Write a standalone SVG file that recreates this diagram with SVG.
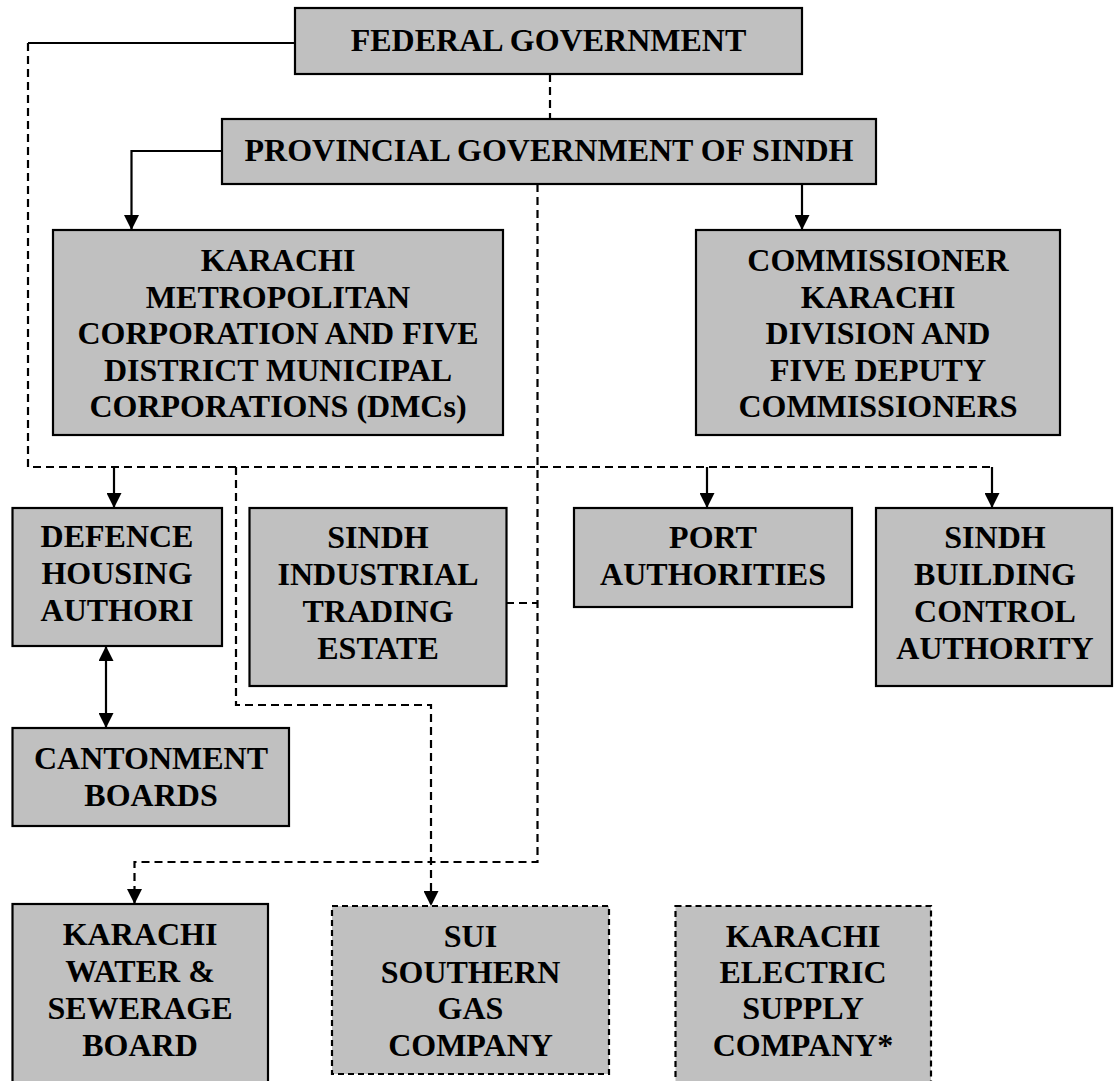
<svg xmlns="http://www.w3.org/2000/svg" width="1114" height="1081" viewBox="0 0 1114 1081">
<style>
.box{fill:#c0c0c0;stroke:#000;stroke-width:2.2}
.dbox{fill:#c0c0c0;stroke:#000;stroke-width:2.2;stroke-dasharray:6 4}
.t{font-family:"Liberation Serif","Times New Roman",serif;font-weight:bold;font-size:32px;fill:#000;text-anchor:middle}
.ln{fill:none;stroke:#000;stroke-width:2.2}
.dl{fill:none;stroke:#000;stroke-width:2.2;stroke-dasharray:8 5}
</style>
<defs>
<marker id="ah" markerUnits="userSpaceOnUse" markerWidth="15" markerHeight="15" refX="15" refY="7.5" orient="auto-start-reverse" viewBox="0 0 15 15">
<path d="M0,0 L15,7.5 L0,15 z" fill="#000"/>
</marker>
</defs>
<rect width="1114" height="1081" fill="#fff"/>
<g id="connectors">
<path class="ln" d="M295,43 H28"/>
<path class="dl" d="M28,43 V467 H992"/>
<path class="ln" d="M114,467 V508" marker-end="url(#ah)"/>
<path class="ln" d="M707,467 V508" marker-end="url(#ah)"/>
<path class="ln" d="M992,467 V508" marker-end="url(#ah)"/>
<path class="dl" d="M236,467 V705 H431 V906" marker-end="url(#ah)"/>
<path class="dl" d="M550,74 V119"/>
<path class="dl" d="M537.5,184 V862 H134.5 V904" marker-end="url(#ah)"/>
<path class="dl" d="M506,603 H537.5"/>
<path class="ln" d="M222,151 H131.5 V230" marker-end="url(#ah)"/>
<path class="ln" d="M802,184 V230" marker-end="url(#ah)"/>
<path class="ln" d="M106,646 V728" marker-start="url(#ah)" marker-end="url(#ah)"/>
</g>
<g id="federal">
<rect class="box" x="295" y="8" width="507" height="66"/>
<text class="t" x="548.5" y="51">FEDERAL GOVERNMENT</text>
</g>
<g id="provincial">
<rect class="box" x="222" y="119" width="654" height="65"/>
<text class="t" x="549" y="161">PROVINCIAL GOVERNMENT OF SINDH</text>
</g>
<g id="kmc">
<rect class="box" x="53" y="230" width="450" height="205"/>
<text class="t" x="278" y="271">KARACHI</text>
<text class="t" x="278" y="307.6">METROPOLITAN</text>
<text class="t" x="278" y="344.2">CORPORATION AND FIVE</text>
<text class="t" x="278" y="380.8">DISTRICT MUNICIPAL</text>
<text class="t" x="278" y="417.4">CORPORATIONS (DMCs)</text>
</g>
<g id="commissioner">
<rect class="box" x="696" y="230" width="364" height="205"/>
<text class="t" x="878" y="271">COMMISSIONER</text>
<text class="t" x="878" y="307.6">KARACHI</text>
<text class="t" x="878" y="344.2">DIVISION AND</text>
<text class="t" x="878" y="380.8">FIVE DEPUTY</text>
<text class="t" x="878" y="417.4">COMMISSIONERS</text>
</g>
<g id="dha">
<rect class="box" x="12.5" y="508" width="209.5" height="138"/>
<text class="t" x="117" y="547">DEFENCE</text>
<text class="t" x="117" y="584">HOUSING</text>
<text class="t" x="117" y="621">AUTHORI</text>
</g>
<g id="site">
<rect class="box" x="249.5" y="508" width="257" height="178"/>
<text class="t" x="378" y="548">SINDH</text>
<text class="t" x="378" y="585">INDUSTRIAL</text>
<text class="t" x="378" y="622">TRADING</text>
<text class="t" x="378" y="659">ESTATE</text>
</g>
<g id="port">
<rect class="box" x="574" y="508" width="278" height="99"/>
<text class="t" x="713" y="548">PORT</text>
<text class="t" x="713" y="585">AUTHORITIES</text>
</g>
<g id="sbca">
<rect class="box" x="876" y="508" width="236" height="178"/>
<text class="t" x="995" y="548">SINDH</text>
<text class="t" x="995" y="585">BUILDING</text>
<text class="t" x="995" y="622">CONTROL</text>
<text class="t" x="995" y="659">AUTHORITY</text>
</g>
<g id="cantonment">
<rect class="box" x="12.5" y="728" width="276.5" height="98"/>
<text class="t" x="151" y="769">CANTONMENT</text>
<text class="t" x="151" y="806">BOARDS</text>
</g>
<g id="kwsb">
<rect class="box" x="12.5" y="904" width="255.5" height="200"/>
<text class="t" x="140" y="945">KARACHI</text>
<text class="t" x="140" y="982">WATER &amp;</text>
<text class="t" x="140" y="1019">SEWERAGE</text>
<text class="t" x="140" y="1056">BOARD</text>
</g>
<g id="ssgc">
<rect class="dbox" x="332" y="906" width="277" height="168"/>
<text class="t" x="470.5" y="947">SUI</text>
<text class="t" x="470.5" y="983">SOUTHERN</text>
<text class="t" x="470.5" y="1019">GAS</text>
<text class="t" x="470.5" y="1056">COMPANY</text>
</g>
<g id="kesc">
<rect class="dbox" x="675.5" y="906" width="255.5" height="200"/>
<text class="t" x="803" y="947">KARACHI</text>
<text class="t" x="803" y="983">ELECTRIC</text>
<text class="t" x="803" y="1019">SUPPLY</text>
<text class="t" x="803" y="1056">COMPANY*</text>
</g>
</svg>
